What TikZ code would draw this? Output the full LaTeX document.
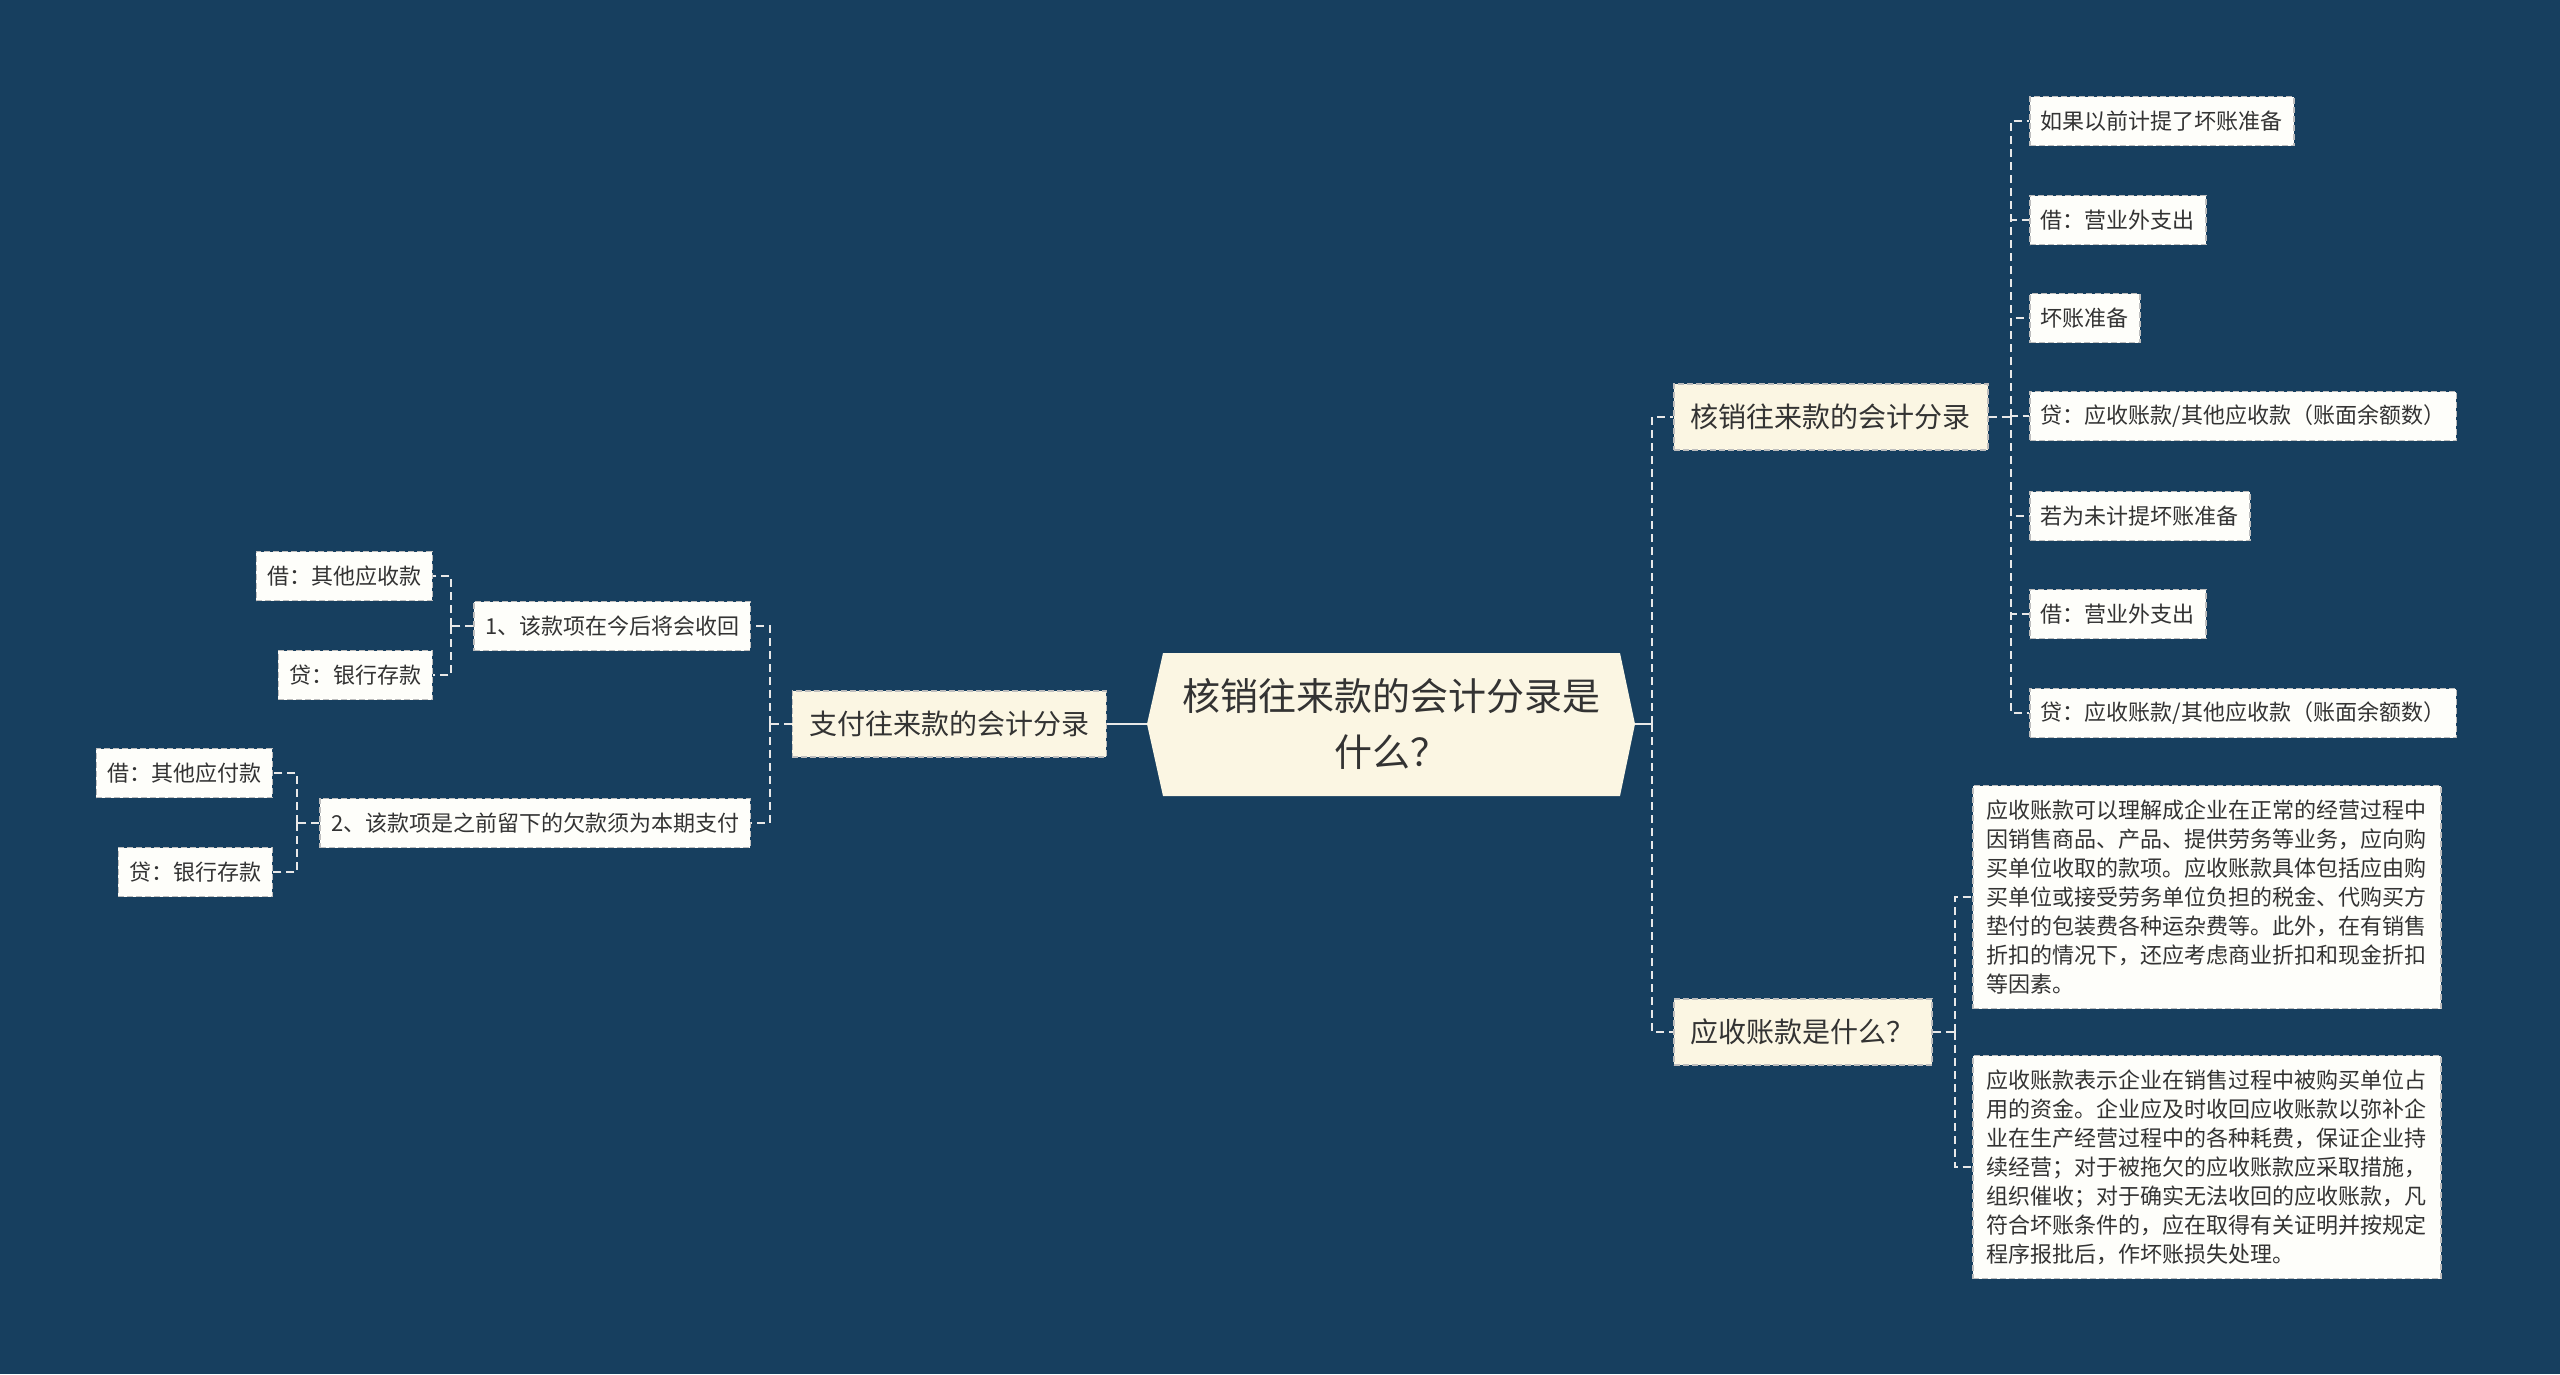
\documentclass[tikz,border=0pt]{standalone}
\usepackage{fontspec}
\setmainfont{Noto Sans CJK SC}
\definecolor{bgblue}{HTML}{173F5F}
\definecolor{cream}{HTML}{FBF6E3}
\definecolor{leafwhite}{HTML}{FEFEFA}
\definecolor{inkgrey}{HTML}{333333}
\definecolor{edgegrey}{HTML}{BDBDBD}
\definecolor{linkwhite}{HTML}{E8E8E8}
\begin{document}
\begin{tikzpicture}[x=1pt,y=-1pt,
  topic/.style={draw=edgegrey,line width=1.5pt,dash pattern=on 6pt off 3pt,fill=cream,text=inkgrey,font=\fontsize{28}{34}\selectfont,minimum height=66pt,inner xsep=17pt,inner ysep=0pt},
  leaf/.style={draw=edgegrey,line width=1.5pt,dash pattern=on 6pt off 3pt,fill=leafwhite,text=inkgrey,font=\fontsize{22}{29}\selectfont,minimum height=49pt,inner xsep=11pt,inner ysep=0pt},
  note/.style={leaf,align=left,inner xsep=14pt,minimum height=223pt},
  link/.style={draw=linkwhite,line width=2pt,dash pattern=on 8pt off 5pt},
  trunk/.style={draw=linkwhite,line width=2.4pt}]
\fill[bgblue] (0,0) rectangle (2560,1374);
% root
\fill[cream] (1163,653) -- (1620,653) -- (1635,724) -- (1620,796) -- (1163,796) -- (1147,724) -- cycle;
\node (root) at (1391,724) [minimum width=488pt,minimum height=143pt,align=center,text=inkgrey,font=\fontsize{38}{56}\selectfont] {核销往来款的会计分录是\\什么？};
% left branch
\node[topic,anchor=east] (pay) at (1107,724) {支付往来款的会计分录};
\node[leaf,anchor=east] (pay1) at (751,626) {1、该款项在今后将会收回};
\node[leaf,anchor=east] (pay2) at (751,823) {2、该款项是之前留下的欠款须为本期支付};
\node[leaf,anchor=east] (pay1a) at (433,576) {借：其他应收款};
\node[leaf,anchor=east] (pay1b) at (433,675) {贷：银行存款};
\node[leaf,anchor=east] (pay2a) at (273,773) {借：其他应付款};
\node[leaf,anchor=east] (pay2b) at (273,872) {贷：银行存款};
% right branches
\node[topic,anchor=west] (hx) at (1673,417) {核销往来款的会计分录};
\node[topic,anchor=west] (ys) at (1673,1032) {应收账款是什么？};
\node[leaf,anchor=west] (hx1) at (2029,121) {如果以前计提了坏账准备};
\node[leaf,anchor=west] (hx2) at (2029,220) {借：营业外支出};
\node[leaf,anchor=west] (hx3) at (2029,318) {坏账准备};
\node[leaf,anchor=west] (hx4) at (2029,416) {贷：应收账款/其他应收款（账面余额数）};
\node[leaf,anchor=west] (hx5) at (2029,516) {若为未计提坏账准备};
\node[leaf,anchor=west] (hx6) at (2029,614) {借：营业外支出};
\node[leaf,anchor=west] (hx7) at (2029,713) {贷：应收账款/其他应收款（账面余额数）};
\node[note,anchor=west] (ys1) at (1972,897) {应收账款可以理解成企业在正常的经营过程中\\因销售商品、产品、提供劳务等业务，应向购\\买单位收取的款项。应收账款具体包括应由购\\买单位或接受劳务单位负担的税金、代购买方\\垫付的包装费各种运杂费等。此外，在有销售\\折扣的情况下，还应考虑商业折扣和现金折扣\\等因素。};
\node[note,anchor=west] (ys2) at (1972,1167) {应收账款表示企业在销售过程中被购买单位占\\用的资金。企业应及时收回应收账款以弥补企\\业在生产经营过程中的各种耗费，保证企业持\\续经营；对于被拖欠的应收账款应采取措施，\\组织催收；对于确实无法收回的应收账款，凡\\符合坏账条件的，应在取得有关证明并按规定\\程序报批后，作坏账损失处理。};
% connectors
\draw[trunk] (pay.east) -- (root.west);
\draw[trunk] (root.east) -- ++(17,0) coordinate (rt);
\foreach \c in {hx,ys}
  \draw[link] (rt) |- (\c.west);
\foreach \p/\kids in {hx/{hx1,hx2,hx3,hx4,hx5,hx6,hx7},ys/{ys1,ys2}}{
  \draw[link] (\p.east) -- ++(22,0);
  \foreach \c in \kids
    \draw[link] ([xshift=22pt]\p.east) |- (\c.west);
}
\foreach \p/\kids in {pay/{pay1,pay2},pay1/{pay1a,pay1b},pay2/{pay2a,pay2b}}{
  \draw[link] (\p.west) -- ++(-22,0);
  \foreach \c in \kids
    \draw[link] ([xshift=-22pt]\p.west) |- (\c.east);
}
\end{tikzpicture}
\end{document}
